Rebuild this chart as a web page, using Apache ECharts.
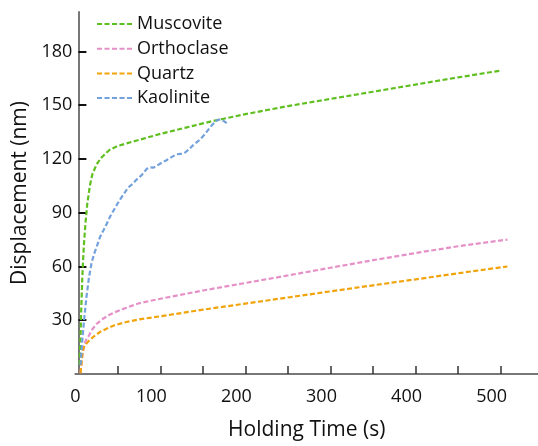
<!DOCTYPE html>
<html>
<head>
<meta charset="utf-8">
<script src="https://cdn.jsdelivr.net/npm/echarts@6/dist/echarts.min.js"></script>
<style>
html,body{margin:0;padding:0;background:#fff;}
#chart{width:538px;height:446px;}
</style>
</head>
<body>
<div id="chart"></div>
<script>
var seriesNames = ['Muscovite', 'Orthoclase', 'Quartz', 'Kaolinite'];
var seriesColors = ['#5fbf1f', '#e690c8', '#f0a30a', '#72a1dc'];

var muscoviteT = [5, 6, 7, 8, 9, 10, 12, 14, 17, 20, 25, 30, 40, 50, 70, 100, 130, 160, 200, 250, 300, 350, 400, 450, 500];
var muscoviteY = [5, 20, 38, 52, 63, 72, 85, 95, 105, 111.5, 117, 120.5, 125, 127.3, 130, 134, 137.5, 141, 145, 149.5, 153.5, 157.5, 161.5, 165.5, 169.3];

var orthoclaseT = [6, 7, 8, 10, 12, 16, 20, 25, 32, 40, 46, 60, 75, 100, 150, 200, 250, 300, 350, 400, 450, 508];
var orthoclaseY = [0.5, 5, 10, 15, 18.5, 21.5, 25, 28, 30.7, 33, 34.4, 37, 39.5, 42, 46.6, 50.8, 55, 59.3, 63.5, 67.5, 71.3, 75];

var quartzT = [6, 7, 8, 9, 10, 12, 16, 20, 24, 30, 40, 46, 60, 75, 100, 150, 200, 250, 300, 350, 400, 450, 508];
var quartzY = [0.5, 5, 10, 13.5, 15, 16.5, 18.5, 20.3, 21.8, 23.8, 26, 27.2, 29, 30.5, 32.2, 35.9, 39.3, 42.7, 46.1, 49.5, 52.8, 56.2, 60];

var kaoliniteT = [6, 8, 10, 13, 16, 19, 22, 25, 29, 35, 41, 47, 52, 57, 62, 67, 72, 78, 84, 88, 92, 96, 102, 107, 113, 119, 124, 129, 134, 139, 144, 150, 155, 160, 165, 169, 172, 175, 178];
var kaoliniteY = [5, 18, 29, 43, 54, 62, 67, 71, 76.5, 82, 88, 93, 97, 100.5, 104, 106, 108.5, 111, 114.5, 115.3, 115.2, 116.3, 118, 119.3, 121, 122.6, 122.8, 123.6, 125.5, 128, 129.8, 132.6, 135.5, 138.5, 141.2, 142, 141.8, 141, 140];

var xTickValues = [50, 100, 150, 200, 250, 300, 350, 400, 450, 500];
var xLabelValues = [0, 100, 200, 300, 400, 500];
var yTickValues = [30, 60, 90, 120, 150, 180];

function pairs(t, y) { return t.map(function (v, i) { return [v, y[i]]; }); }
var allData = [pairs(muscoviteT, muscoviteY), pairs(orthoclaseT, orthoclaseY), pairs(quartzT, quartzY), pairs(kaoliniteT, kaoliniteY)];

var FONT = '"Open Sans", "Noto Sans", sans-serif';
var chart = echarts.init(document.getElementById('chart'), null, {renderer: 'canvas'});
chart.setOption({
  animation: false,
  backgroundColor: '#ffffff',
  textStyle: {fontFamily: FONT},
  grid: {left: 75.4, right: 0, top: 12, bottom: 68, containLabel: false},
  legend: {
    orient: 'vertical', left: 96, top: 14, padding: 0,
    itemWidth: 35, itemHeight: 14, itemGap: 4.7,
    itemStyle: {opacity: 0, color: 'rgba(0,0,0,0)', borderColor: 'rgba(0,0,0,0)', borderWidth: 0},
    textStyle: {fontFamily: FONT, fontSize: 18, color: '#111', lineHeight: 20},
    data: seriesNames
  },
  xAxis: {
    type: 'value', min: 0, max: 544,
    name: 'Holding Time (s)', nameLocation: 'middle', nameGap: 46,
    nameTextStyle: {fontFamily: FONT, fontSize: 21, color: '#111'},
    splitLine: {show: false},
    axisLine: {show: true, lineStyle: {color: '#777', width: 2}},
    axisTick: {show: true, inside: true, length: 8, lineStyle: {color: '#333', width: 1.5}, customValues: xTickValues},
    axisLabel: {
      customValues: xLabelValues, margin: 14, fontFamily: FONT, fontSize: 18, color: '#111',
      formatter: function (v) { return v === 0 ? '{z|0}' : '{s|' + v + '}'; },
      rich: {z: {fontFamily: FONT, fontSize: 18, color: '#111'}, s: {fontFamily: FONT, fontSize: 18, color: '#111', padding: [0, 18, 0, 0]}}
    }
  },
  yAxis: {
    type: 'value', min: 0, max: 202, offset: -3,
    name: 'Displacement (nm)', nameLocation: 'middle', nameGap: 40,
    nameTextStyle: {fontFamily: FONT, fontSize: 21, color: '#111'},
    splitLine: {show: false},
    axisLine: {show: true, lineStyle: {color: '#777', width: 2}},
    axisTick: {show: true, inside: true, length: 8, lineStyle: {color: '#111', width: 2}, customValues: yTickValues},
    axisLabel: {customValues: yTickValues, margin: 6, fontFamily: FONT, fontSize: 18, color: '#111'}
  },
  series: seriesNames.map(function (n, i) {
    return {
      name: n, type: 'line', data: allData[i], showSymbol: false, symbol: 'none', smooth: false,
      color: seriesColors[i],
      lineStyle: {color: seriesColors[i], width: 2.2, type: [5, 2.5]},
      z: i === 3 ? 3 : 2
    };
  })
});
</script>
</body>
</html>
